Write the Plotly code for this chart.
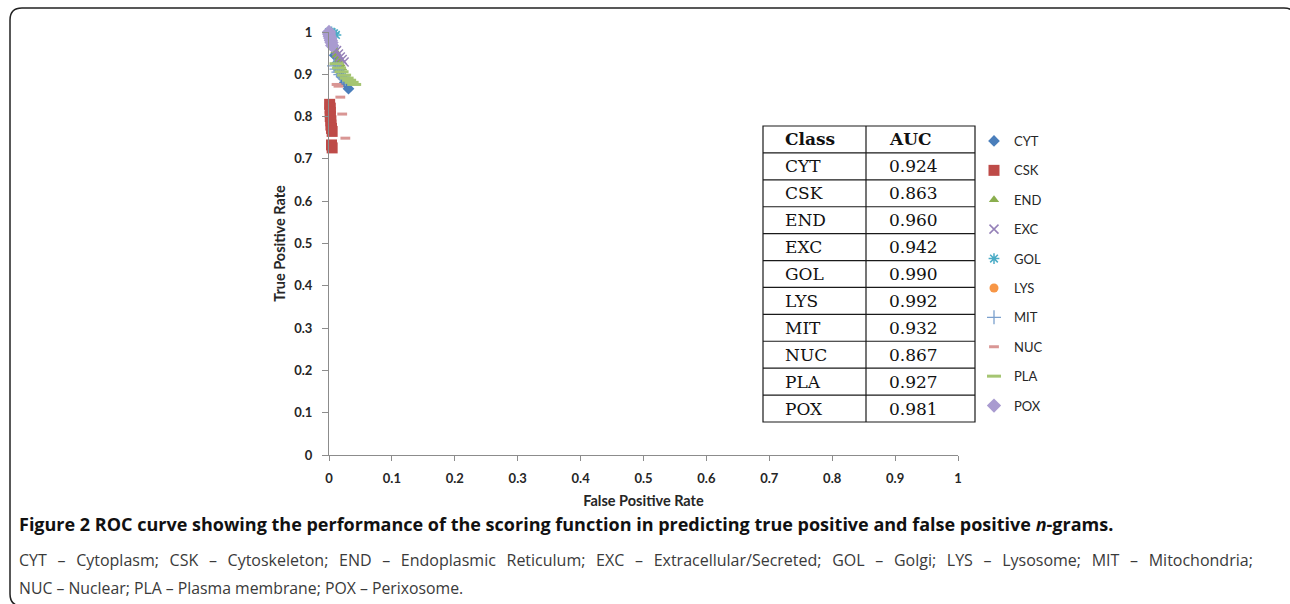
import plotly.graph_objects as go

# ---- data -------------------------------------------------------------
CLASSES = ["CYT", "CSK", "END", "EXC", "GOL", "LYS", "MIT", "NUC", "PLA", "POX"]
AUC = ["0.924", "0.863", "0.960", "0.942", "0.990", "0.992", "0.932", "0.867", "0.927", "0.981"]

CYT_FPR = [0.000, 0.003, 0.006, 0.009, 0.012, 0.016, 0.020, 0.025, 0.031]
CYT_TPR = [1.000, 0.985, 0.965, 0.945, 0.925, 0.910, 0.895, 0.880, 0.866]

CSK_FPR = [0.001, 0.002, 0.002, 0.002, 0.003, 0.003, 0.004, 0.005, 0.004, 0.005]
CSK_TPR = [0.829, 0.820, 0.810, 0.800, 0.790, 0.780, 0.772, 0.765, 0.733, 0.726]

END_FPR = [0.002, 0.005, 0.008, 0.010, 0.012, 0.015, 0.018, 0.021]
END_TPR = [0.990, 0.975, 0.962, 0.955, 0.945, 0.935, 0.925, 0.915]

EXC_FPR = [0.012, 0.015, 0.018, 0.021, 0.024]
EXC_TPR = [0.956, 0.948, 0.941, 0.935, 0.929]

GOL_FPR = [0.000, 0.004, 0.008, 0.011]
GOL_TPR = [1.000, 1.000, 0.997, 0.993]

LYS_FPR = [0.000, 0.001, 0.002, 0.003]
LYS_TPR = [1.000, 0.995, 0.990, 0.984]

MIT_FPR = [0.008, 0.012, 0.015, 0.018, 0.022, 0.026]
MIT_TPR = [0.920, 0.912, 0.905, 0.899, 0.894, 0.889]

NUC_FPR = [0.012, 0.015, 0.018, 0.021, 0.026]
NUC_TPR = [0.876, 0.872, 0.846, 0.806, 0.749]

PLA_FPR = [0.012, 0.016, 0.020, 0.024, 0.028, 0.032, 0.036, 0.040]
PLA_TPR = [0.925, 0.915, 0.906, 0.898, 0.891, 0.886, 0.881, 0.876]

POX_FPR = [0.000, 0.000, 0.001, 0.002, 0.003, 0.004, 0.005]
POX_TPR = [1.000, 0.995, 0.990, 0.985, 0.980, 0.975, 0.968]

AXIS_TICKS = [0, 0.1, 0.2, 0.3, 0.4, 0.5, 0.6, 0.7, 0.8, 0.9, 1]
AXIS_TICKTEXT = ["0", "0.1", "0.2", "0.3", "0.4", "0.5", "0.6", "0.7", "0.8", "0.9", "1"]

# ---- styling per class --------------------------------------------------
STYLE = {
    "CYT": dict(symbol="diamond", size=9, color="#4A7EBB"),
    "CSK": dict(symbol="square", size=11, color="#BE4B48"),
    "END": dict(symbol="triangle-up", size=9, color="#8AAE4E"),
    "EXC": dict(symbol="x-thin-open", size=9, color="#9581B8", lw=1.5),
    "GOL": dict(symbol="asterisk-open", size=9, color="#4BACC6", lw=1.5),
    "LYS": dict(symbol="circle", size=9, color="#F79646"),
    "MIT": dict(symbol="cross-thin-open", size=10, color="#7BA0CD", lw=1.3),
    "NUC": dict(symbol="line-ew-open", size=7, color="#D99694", lw=3),
    "PLA": dict(symbol="line-ew-open", size=10, color="#A5C572", lw=3),
    "POX": dict(symbol="diamond", size=11, color="#A99BD0"),
}
SERIES = {
    "CYT": (CYT_FPR, CYT_TPR), "CSK": (CSK_FPR, CSK_TPR), "END": (END_FPR, END_TPR),
    "EXC": (EXC_FPR, EXC_TPR), "GOL": (GOL_FPR, GOL_TPR), "LYS": (LYS_FPR, LYS_TPR),
    "MIT": (MIT_FPR, MIT_TPR), "NUC": (NUC_FPR, NUC_TPR), "PLA": (PLA_FPR, PLA_TPR),
    "POX": (POX_FPR, POX_TPR),
}

W, H = 1290, 604
L, R, T, B = 329, 958, 32, 455  # plot-area edges in pixels


def px_x(p):
    return (p - L) / (R - L)


def px_y(p):
    return (B - p) / (B - T)


fig = go.Figure()
for name in CLASSES:
    st = STYLE[name]
    xs, ys = SERIES[name]
    open_sym = "open" in st["symbol"]
    marker = dict(symbol=st["symbol"], size=st["size"], color=st["color"])
    if open_sym:
        marker["line"] = dict(color=st["color"], width=st["lw"])
    else:
        marker["line"] = dict(width=0)
    fig.add_trace(go.Scatter(
        x=xs, y=ys, mode="markers", name=name, legendgroup=name,
        marker=marker, cliponaxis=False,
    ))

AX_FONT = dict(family="Lato", size=13, color="#262626")
TITLE_FONT = dict(family="Lato", size=14.5, color="#262626")
fig.update_xaxes(
    range=[0, 1], tickvals=AXIS_TICKS, ticktext=AXIS_TICKTEXT,
    showgrid=False, zeroline=False, showline=True, linecolor="#8c8c8c", linewidth=1.2,
    ticks="outside", ticklen=5, tickcolor="#8c8c8c", tickwidth=1.2,
    tickfont=dict(AX_FONT, weight="bold"), ticklabelstandoff=6,
    title=dict(text="<b>False Positive Rate</b>", font=TITLE_FONT, standoff=11),
)
fig.update_yaxes(
    range=[0, 1], tickvals=AXIS_TICKS, ticktext=AXIS_TICKTEXT,
    showgrid=False, zeroline=False, showline=True, linecolor="#8c8c8c", linewidth=1.2,
    ticks="outside", ticklen=6, tickcolor="#8c8c8c", tickwidth=1.2,
    tickfont=dict(AX_FONT, weight="bold"), ticklabelstandoff=7,
    title=dict(text="<b>True Positive Rate</b>", font=TITLE_FONT, standoff=5),
)

# ---- AUC table -----------------------------------------------------------
TBL_L, TBL_M, TBL_R = 763, 866, 975
TBL_T, TBL_B = 126, 422
nrows = len(CLASSES) + 1
rh = (TBL_B - TBL_T) / nrows
shapes = []
line = dict(color="#1a1a1a", width=1.2)
shapes.append(dict(type="rect", xref="paper", yref="paper",
                   x0=px_x(TBL_L), x1=px_x(TBL_R), y0=px_y(TBL_B), y1=px_y(TBL_T),
                   line=line, fillcolor="white", layer="below"))
shapes.append(dict(type="line", xref="paper", yref="paper",
                   x0=px_x(TBL_M), x1=px_x(TBL_M), y0=px_y(TBL_B), y1=px_y(TBL_T), line=line))
for i in range(1, nrows):
    yy = px_y(TBL_T + i * rh)
    shapes.append(dict(type="line", xref="paper", yref="paper",
                       x0=px_x(TBL_L), x1=px_x(TBL_R), y0=yy, y1=yy, line=line))

annotations = []
TFONT = dict(family="DejaVu Serif", size=17, color="#111111")
header = [("<b>Class</b>", TBL_L + 20), ("<b>AUC</b>", TBL_M + 21)]
for txt, xp in header:
    annotations.append(dict(text=txt, x=px_x(xp), y=px_y(TBL_T + rh / 2), xref="paper", yref="paper",
                            xanchor="left", yanchor="middle", showarrow=False, font=TFONT))
for i, (c, a) in enumerate(zip(CLASSES, AUC)):
    yc = px_y(TBL_T + (i + 1.5) * rh)
    annotations.append(dict(text=c, x=px_x(TBL_L + 20), y=yc, xref="paper", yref="paper",
                            xanchor="left", yanchor="middle", showarrow=False, font=TFONT))
    annotations.append(dict(text=a, x=px_x(TBL_M + 21), y=yc, xref="paper", yref="paper",
                            xanchor="left", yanchor="middle", showarrow=False, font=TFONT))

# ---- caption ---------------------------------------------------------------
CAPTION_TITLE = ("<b>Figure 2 ROC curve showing the performance of the scoring function in predicting "
                 "true positive and false positive <i>n</i>-grams.</b>")
CAPTION_LINES = [
    "CYT – Cytoplasm; CSK – Cytoskeleton; END – Endoplasmic Reticulum; EXC – Extracellular/Secreted; "
    "GOL – Golgi; LYS – Lysosome; MIT – Mitochondria;",
    "NUC – Nuclear; PLA – Plasma membrane; POX – Perixosome.",
]
CAPTION_SIZES = [16.0, 15.8]
# the first legend line is justified: widen its word gaps (en space + thin space)
JUSTIFY_GAP = "\u2002\u2009"
annotations.append(dict(text=CAPTION_TITLE, x=px_x(17), y=px_y(524), xref="paper", yref="paper",
                        xanchor="left", yanchor="middle", showarrow=False,
                        font=dict(family="Open Sans", size=18, color="#111111")))
for k, ln in enumerate(CAPTION_LINES):
    txt = ln.replace(" ", JUSTIFY_GAP) if k == 0 else ln
    annotations.append(dict(text=txt, x=px_x(17), y=px_y(560 + 28 * k), xref="paper", yref="paper",
                            xanchor="left", yanchor="middle", showarrow=False,
                            font=dict(family="Open Sans", size=CAPTION_SIZES[k], color="#3a3a3a")))

# ---- rounded frame around figure ---------------------------------------------
fx0, fy0, fx1, fy1, rr = 10, 8, 1296, 606, 12


def P(xp, yp):
    return f"{px_x(xp):.5f},{px_y(yp):.5f}"


frame_path = (f"M {P(fx0 + rr, fy0)} L {P(fx1 - rr, fy0)} Q {P(fx1, fy0)} {P(fx1, fy0 + rr)} "
              f"L {P(fx1, fy1 - rr)} Q {P(fx1, fy1)} {P(fx1 - rr, fy1)} "
              f"L {P(fx0 + rr, fy1)} Q {P(fx0, fy1)} {P(fx0, fy1 - rr)} "
              f"L {P(fx0, fy0 + rr)} Q {P(fx0, fy0)} {P(fx0 + rr, fy0)} Z")
shapes.append(dict(type="path", xref="paper", yref="paper", path=frame_path,
                   line=dict(color="#222222", width=1.5)))

fig.update_layout(
    width=W, height=H,
    margin=dict(l=L, r=W - R, t=T, b=H - B),
    plot_bgcolor="white", paper_bgcolor="white",
    shapes=shapes, annotations=annotations,
    showlegend=True,
    legend=dict(x=px_x(974), y=px_y(126), xanchor="left", yanchor="top",
                font=dict(family="Lato", size=13, color="#262626"),
                tracegroupgap=9.5, itemwidth=30, bgcolor="rgba(0,0,0,0)"),
)

fig.write_html("out.html")
